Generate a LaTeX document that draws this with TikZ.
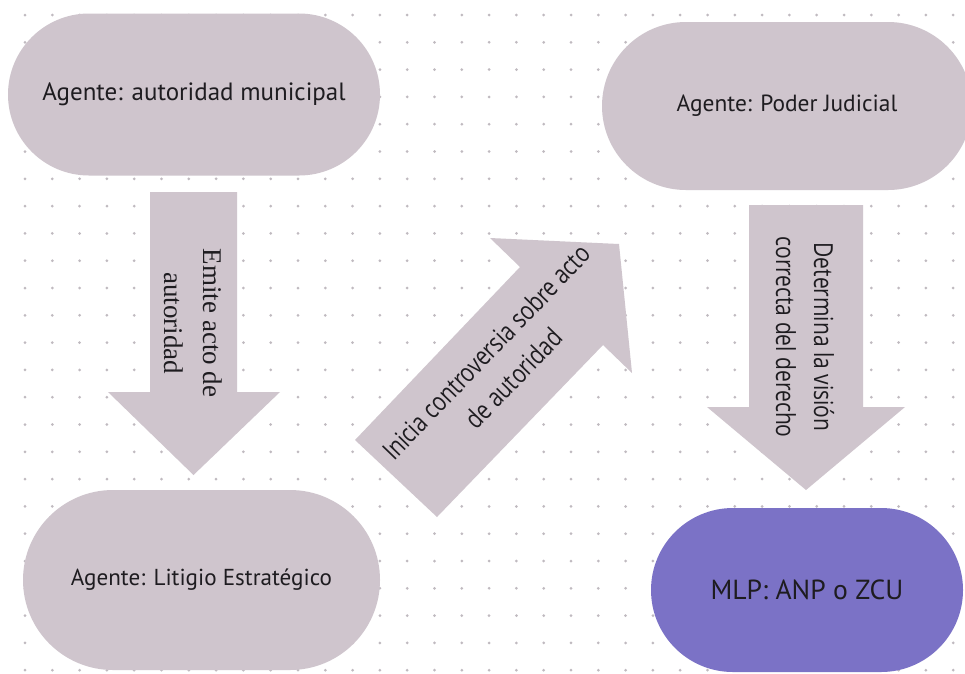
\documentclass[tikz,border=0pt]{standalone}
\usepackage{fontspec}
\setmainfont{PT Sans}
\newfontfamily\arrowfont[FakeStretch=0.8]{Open Sans}
\newfontfamily\serifarrow{Liberation Serif}
\usetikzlibrary{shapes.misc}
\definecolor{boxc}{RGB}{207,197,205}
\definecolor{purp}{RGB}{123,114,198}
\definecolor{dotc}{RGB}{192,186,192}
\definecolor{txt}{RGB}{30,28,32}
\begin{document}
\begin{tikzpicture}[x=1pt,y=-1pt,
  stad/.style={rounded rectangle, fill=boxc, inner sep=0pt, text=txt},
  blockarrow/.style={fill=boxc},
  arrowlabel/.style={align=center, inner sep=0pt, text=txt}]
\useasboundingbox (0,0) rectangle (965,673);
\clip (0,0) rectangle (965,673);
\fill[white] (0,0) rectangle (965,673);
\foreach \i in {0,...,34} \foreach \j in {0,...,24}
  \fill[dotc] ({25+27.3*\i},{15+27.3*\j}) circle (1.5pt);

% stadium nodes
\node[stad, minimum width=372pt, minimum height=162pt, font=\fontsize{25}{30}\selectfont] (n1) at (194,94.5) {Agente: autoridad municipal};
\node[stad, minimum width=370pt, minimum height=168pt, font=\fontsize{23.4}{28}\selectfont] (n2) at (787,106) {Agente: Poder Judicial};
\node[stad, minimum width=357pt, minimum height=180pt, font=\fontsize{23.1}{28}\selectfont] (n3) at (201.5,580) {Agente: Litigio Estratégico};
\node[stad, fill=purp, minimum width=312pt, minimum height=164pt, font=\fontsize{27.6}{32}\selectfont] (n4) at (807,590) {MLP: ANP o ZCU};

% block arrows
\fill[blockarrow] (150,192) -- (237,192) -- (237,392) -- (280,392) -- (193.5,475) -- (108,392) -- (150,392) -- cycle;
\node[arrowlabel, rotate=-90, font=\serifarrow\fontsize{27}{39}\selectfont] (l1) at (193,323) {Emite acto de\\autoridad};

\fill[blockarrow] (355,440) -- (520,267) -- (490,238) -- (619,244) -- (632,373) -- (603,345) -- (437,517) -- cycle;
\node[arrowlabel, rotate=46, font=\arrowfont\fontsize{26.25}{38}\selectfont] (l2) at (500,365) {Inicia controversia sobre acto\\de autoridad};

\fill[blockarrow] (749,205) -- (863,205) -- (863,407) -- (905,407) -- (806,490) -- (707,407) -- (749,407) -- cycle;
\node[arrowlabel, rotate=-90, font=\arrowfont\fontsize{26.25}{38}\selectfont] (l3) at (805,337) {Determina la visión\\correcta del derecho};
\end{tikzpicture}
\end{document}
